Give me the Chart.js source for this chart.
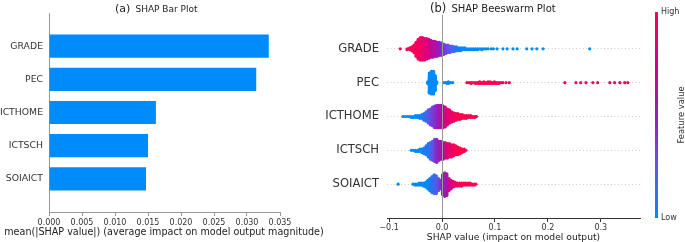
<!DOCTYPE html>
<html>
<head>
<meta charset="utf-8">
<script src="https://cdn.jsdelivr.net/npm/chart.js@4.4.0/dist/chart.umd.min.js"></script>
<style>
  body { margin: 0; background: #fff; font-family: "DejaVu Sans", sans-serif; }
  #page { position: relative; width: 685px; height: 242px; overflow: hidden; }
  canvas { position: absolute; top: 0; }
  .txt { position: absolute; white-space: nowrap; color: #222; line-height: 1; }
  #cbar { position: absolute; left: 655px; top: 12px; width: 3px; height: 206px;
    background: linear-gradient(to top, rgb(0,138,250) 0%, rgb(96,86,232) 25%, rgb(150,30,190) 50%, rgb(214,0,135) 75%, rgb(255,0,82) 100%); }
</style>
</head>
<body>
<div id="page">
  <canvas id="barChart" width="320" height="242" style="left:0"></canvas>
  <canvas id="swarmChart" width="365" height="242" style="left:320px"></canvas>
  <div class="txt" style="left:115px; top:-1px;"><span style="font-size:11px">(a)</span> <span style="font-size:9px">SHAP Bar Plot</span></div>
  <div class="txt" style="left:430px; top:-1px;"><span style="font-size:11.5px">(b)</span> <span style="font-size:10px">SHAP Beeswarm Plot</span></div>
  <div class="txt" style="left:164px; top:232px; font-size:9.6px; transform:translate(-50%,-50%);">mean(|SHAP value|) (average impact on model output magnitude)</div>
  <div id="cbar"></div>
  <div class="txt" style="left:661px; top:8px; font-size:8px; color:#333">High</div>
  <div class="txt" style="left:661px; top:214px; font-size:8px; color:#333">Low</div>
  <div class="txt" style="left:681px; top:115px; font-size:8.4px; color:#333; transform:translate(-50%,-50%) rotate(-90deg);">Feature value</div>
</div>
<script>
// feature names, top to bottom
const features = ['GRADE', 'PEC', 'ICTHOME', 'ICTSCH', 'SOIAICT'];

// (a) mean |SHAP| per feature
const meanAbsShap = [0.0333, 0.0314, 0.0162, 0.0150, 0.0147];
const barTicks = [0, 0.005, 0.010, 0.015, 0.020, 0.025, 0.030, 0.035];

// (b) beeswarm, read as [shap value, points at that value, feature value 0=low..1=high]
const swarmTicks = [-0.1, 0.0, 0.1, 0.2, 0.3];

const gradeBins = [
  [-0.079,1,1],[-0.066,2,1],[-0.061,3,1],[-0.057,5,1],[-0.053,9,0.95],[-0.049,16,0.95],
  [-0.045,22,0.95],[-0.041,25,0.92],[-0.037,25,0.9],[-0.033,24,0.85],[-0.029,23,0.8],
  [-0.025,21,0.75],[-0.021,19,0.7],[-0.017,18,0.65],[-0.013,17,0.6],[-0.009,16,0.55],
  [-0.005,15,0.5],[-0.001,14,0.45],[0.003,12,0.4],[0.007,10,0.35],[0.011,9,0.3],
  [0.015,8,0.25],[0.019,7,0.2],[0.023,6,0.15],[0.027,5,0.1],[0.031,4,0.05],[0.035,4,0.05],
  [0.039,3,0],[0.043,3,0],[0.047,2,0],[0.051,2,0],[0.055,2,0],[0.059,2,0],[0.063,2,0],
  [0.067,2,0],[0.071,1,0],[0.075,2,0],[0.079,1,0],[0.083,1,0],[0.087,1,0],[0.093,1,0],
  [0.097,1,0],[0.104,1,0],[0.115,1,0],[0.123,1,0],[0.134,1,0],[0.142,1,0],[0.160,1,0],
  [0.170,1,0],[0.179,1,0],[0.191,1,0],[0.279,1,0]
];
const pecBins = [
  [-0.027,3,0],[-0.024,24,0],[-0.020,27,0],[-0.016,27,0],[-0.013,18,0],[-0.010,3,0],
  [0.003,1,0],[0.007,1,0],[0.010,2,0],[0.012,3,0.05],[0.016,1,0],[0.020,1,0],
  [0.047,1,1],[0.051,1,1],[0.055,2,1],[0.059,1,1],[0.063,2,1],[0.067,2,1],[0.071,3,1],
  [0.075,2,1],[0.079,3,1],[0.083,2,1],[0.087,3,1],[0.091,3,1],[0.095,2,1],[0.099,3,1],
  [0.103,2,1],[0.107,2,1],[0.111,1,1],[0.115,1,1],[0.121,1,1],[0.127,1,1],
  [0.232,1,1],[0.253,1,1],[0.262,1,1],[0.272,1,1],[0.285,1,1],[0.294,1,1],[0.317,1,1],
  [0.326,1,1],[0.336,1,1],[0.345,1,1],[0.351,1,1]
];
const icthomeBins = [
  [-0.074,1,0],[-0.070,1,0],[-0.066,1,0],[-0.062,1,0],[-0.058,2,0],[-0.054,2,0],[-0.050,3,0],
  [-0.046,3,0],[-0.042,4,0.05],[-0.038,5,0.05],[-0.034,8,0.1],[-0.030,11,0.15],[-0.026,15,0.2],
  [-0.022,18,0.3],[-0.018,21,0.35],[-0.014,24,0.4],[-0.010,25,0.45],[-0.006,25,0.55],
  [-0.002,25,0.6],[0.002,24,0.7],[0.006,22,0.75],[0.010,18,0.8],[0.014,15,0.85],[0.018,12,0.9],
  [0.022,10,0.95],[0.026,8,1],[0.030,7,1],[0.034,6,1],[0.038,5,1],[0.042,4,1],[0.046,4,1],
  [0.050,3,1],[0.054,3,1],[0.058,2,1],[0.062,2,1],[0.065,1,1]
];
const ictschBins = [
  [-0.058,1,0],[-0.054,1,0],[-0.050,2,0],[-0.046,2,0],[-0.042,3,0],[-0.038,4,0],[-0.034,6,0.05],
  [-0.030,9,0.1],[-0.026,13,0.1],[-0.022,16,0.15],[-0.018,18,0.25],[-0.014,21,0.35],
  [-0.010,22,0.45],[-0.006,18,0.5],[-0.002,17,0.55],[0.002,16,0.65],[0.006,15,0.7],
  [0.010,14,0.8],[0.014,13,0.85],[0.018,12,0.9],[0.022,11,0.95],[0.026,9,1],[0.030,8,1],
  [0.034,6,1],[0.038,4,1],[0.042,3,1],[0.045,1,1]
];
const soiaictBins = [
  [-0.083,1,0],[-0.055,1,0],[-0.051,2,0],[-0.047,2,0],[-0.043,3,0],[-0.039,3,0],[-0.035,4,0],
  [-0.031,6,0],[-0.027,10,0],[-0.023,14,0.05],[-0.019,18,0.1],[-0.015,21,0.15],[-0.011,20,0.2],
  [-0.007,14,0.3],[-0.003,10,0.4],[0.001,22,0.5],[0.005,26,0.55],[0.009,24,0.6],[0.013,14,0.7],
  [0.017,10,0.75],[0.021,7,0.8],[0.025,5,0.9],[0.029,4,0.95],[0.033,4,1],[0.037,4,1],
  [0.041,3,1],[0.045,3,1],[0.049,3,1],[0.053,3,1],[0.057,2,1],[0.061,2,1],[0.064,1,1]
];

const font = 'DejaVu Sans';

// shap red_blue colormap, approximated by a few stops
const colorStops = [[0,[0,138,250]],[0.25,[96,86,232]],[0.5,[150,30,190]],[0.75,[214,0,135]],[1,[255,0,82]]];
function featureColor(v) {
  for (let i = 1; i < colorStops.length; i++) {
    if (v <= colorStops[i][0]) {
      const [a, ca] = colorStops[i-1], [b, cb] = colorStops[i];
      const t = (v - a) / (b - a);
      return 'rgb(' + ca.map((c, k) => Math.round(c + (cb[k] - c) * t)).join(',') + ')';
    }
  }
  return 'rgb(255,0,82)';
}

// stack points of each bin in alternating layers (like shap does), scaled to fit the row
function swarmPoints(bins, row) {
  const maxN = Math.max(...bins.map(b => b[1]));
  const step = 0.36 / Math.ceil(maxN / 2);
  const pts = [];
  bins.forEach(([x, n, v]) => {
    for (let k = 0; k < n; k++) {
      const layer = Math.ceil(k / 2) * (k % 2 ? 1 : -1);
      pts.push({x: x, y: row + layer * step, c: featureColor(v)});
    }
  });
  return pts;
}

// (a) bar plot
new Chart(document.getElementById('barChart'), {
  type: 'bar',
  data: {
    datasets: [{
      data: meanAbsShap.map((v, i) => ({x: v, y: i})),
      backgroundColor: '#008bfb',
      barPercentage: 0.7,
      categoryPercentage: 1
    }]
  },
  options: {
    indexAxis: 'y',
    responsive: false,
    animation: false,
    layout: {padding: {top: 13, right: 40, left: 0, bottom: 0}},
    plugins: {legend: {display: false}, tooltip: {enabled: false}},
    scales: {
      x: {
        type: 'linear', min: 0, max: 0.035,
        afterBuildTicks: a => { a.ticks = barTicks.map(v => ({value: v})); },
        afterFit: a => { a.height = 30; },
        ticks: {callback: v => v.toFixed(3), font: {family: font, size: 8}, color: '#333', padding: 2, maxRotation: 0, autoSkip: false},
        grid: {display: true, drawOnChartArea: false, tickLength: 4, tickColor: '#999'},
        border: {color: '#999'}
      },
      y: {
        type: 'linear', min: -1, max: 5, reverse: true, offset: false,
        afterBuildTicks: a => { a.ticks = features.map((f, i) => ({value: i})); },
        afterFit: a => { a.width = 49; },
        ticks: {callback: v => features[v], font: {family: font, size: 9.3}, color: '#333', padding: 6, autoSkip: false},
        grid: {display: false, drawTicks: false},
        border: {display: true, color: '#999'}
      }
    }
  }
});

// (b) beeswarm plot
const rows = [gradeBins, pecBins, icthomeBins, ictschBins, soiaictBins];
new Chart(document.getElementById('swarmChart'), {
  type: 'scatter',
  data: {
    datasets: rows.map((bins, i) => {
      const pts = swarmPoints(bins, i);
      return {
        data: pts,
        pointBackgroundColor: pts.map(p => p.c),
        pointRadius: 1.6,
        pointBorderWidth: 0,
        pointHoverRadius: 1.6
      };
    })
  },
  options: {
    responsive: false,
    animation: false,
    layout: {padding: {top: 11, right: 45, left: 0, bottom: 0}},
    plugins: {legend: {display: false}, tooltip: {enabled: false}},
    scales: {
      x: {
        type: 'linear', min: -0.104, max: 0.374,
        afterBuildTicks: a => { a.ticks = swarmTicks.map(v => ({value: v})); },
        afterFit: a => { a.height = 24; },
        ticks: {callback: v => (v < 0 ? '\u2212' : '') + Math.abs(v).toFixed(1), font: {family: font, size: 8}, color: '#333', padding: 1, maxRotation: 0, autoSkip: false},
        grid: {display: true, z: 1, color: c => (c.tick && c.tick.value === 0) ? '#999' : 'rgba(0,0,0,0)', tickLength: 4, tickColor: '#333'},
        border: {color: '#333', z: 2},
        title: {display: true, text: 'SHAP value (impact on model output)',
          font: {family: font, size: 9.2, lineHeight: 1}, color: '#222', padding: {top: 0, bottom: 0}}
      },
      y: {
        type: 'linear', min: -1, max: 5, reverse: true,
        afterBuildTicks: a => { a.ticks = features.map((f, i) => ({value: i})); },
        afterFit: a => { a.width = 67; },
        ticks: {callback: v => features[v], font: {family: font, size: 11.6}, color: '#333', padding: 8, autoSkip: false},
        grid: {display: true, drawTicks: false, color: '#ccc', lineWidth: 1},
        border: {display: false, dash: [1, 2.5]}
      }
    }
  }
});
</script>
</body>
</html>
